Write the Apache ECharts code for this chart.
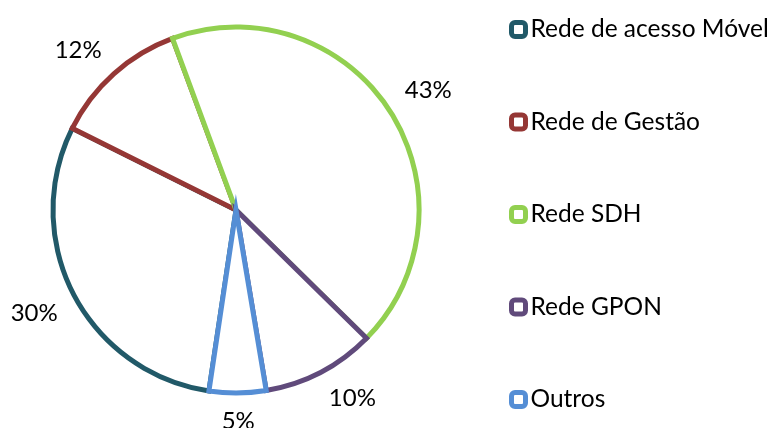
<!DOCTYPE html>
<html>
<head>
<meta charset="utf-8">
<style>
  html, body { margin: 0; padding: 0; background: #ffffff; }
  #chart { width: 773px; height: 428px; }
</style>
<script src="https://cdn.jsdelivr.net/npm/echarts@6/dist/echarts.min.js"></script>
</head>
<body>
<div id="chart"></div>
<script>
// Share of incidents per network
const categories = ['Rede de acesso Móvel', 'Rede de Gestão', 'Rede SDH', 'Rede GPON', 'Outros'];
const shares = [30, 12, 43, 10, 5];
const outlineColors = ['#215968', '#953735', '#92D050', '#604A7B', '#558ED5'];

const FONT = 'Lato, "Open Sans", sans-serif';

const pieData = categories.map(function (name, i) {
  return {
    name: name,
    value: shares[i],
    itemStyle: { color: '#ffffff', borderColor: outlineColors[i] }
  };
});

function clampSign(v) {
  return Math.max(-1, Math.min(1, v / 0.3));
}

const chart = echarts.init(document.getElementById('chart'), null, { renderer: 'canvas' });

chart.setOption({
  animation: false,
  backgroundColor: '#ffffff',
  legend: {
    orient: 'vertical',
    left: 509,
    top: 17,
    padding: 0,
    icon: 'roundRect',
    itemWidth: 14,
    itemHeight: 14,
    itemGap: 67.5,
    itemStyle: { borderWidth: 5 },
    textStyle: { fontFamily: FONT, fontSize: 24.5, color: '#000000', lineHeight: 24, padding: [0, 0, 0, 0] },
    selectedMode: false,
    data: categories
  },
  series: [{
    type: 'pie',
    center: [236, 210],
    radius: 183,
    startAngle: 261.5,
    clockwise: true,
    avoidLabelOverlap: false,
    emphasis: { disabled: true },
    itemStyle: { borderWidth: 5, borderJoin: 'miter', borderMiterLimit: 10 },
    label: {
      show: true,
      position: 'outside',
      formatter: function (p) { return Math.round(p.percent) + '%'; },
      fontFamily: FONT,
      fontSize: 24,
      lineHeight: 24,
      color: '#000000'
    },
    labelLine: { show: true, length: 10, length2: 0, lineStyle: { opacity: 0 } },
    // anchor each percentage a little outside the rim along the slice's mid direction,
    // with the nearest corner of its text box on that anchor
    labelLayout: function (params) {
      const pts = params.labelLinePoints;
      if (!pts || pts.length < 2) return {};
      const dx = pts[1][0] - pts[0][0];
      const dy = pts[1][1] - pts[0][1];
      const len = Math.hypot(dx, dy) || 1;
      const ux = dx / len, uy = dy / len;
      const w = params.labelRect.width, h = 22;
      const ax = pts[0][0] + ux * 18;
      const ay = pts[0][1] + uy * 17;
      return {
        x: ax + clampSign(ux) * w / 2,
        y: ay + clampSign(uy) * h / 2,
        align: 'center',
        verticalAlign: 'middle'
      };
    },
    data: pieData
  }]
});
</script>
</body>
</html>
